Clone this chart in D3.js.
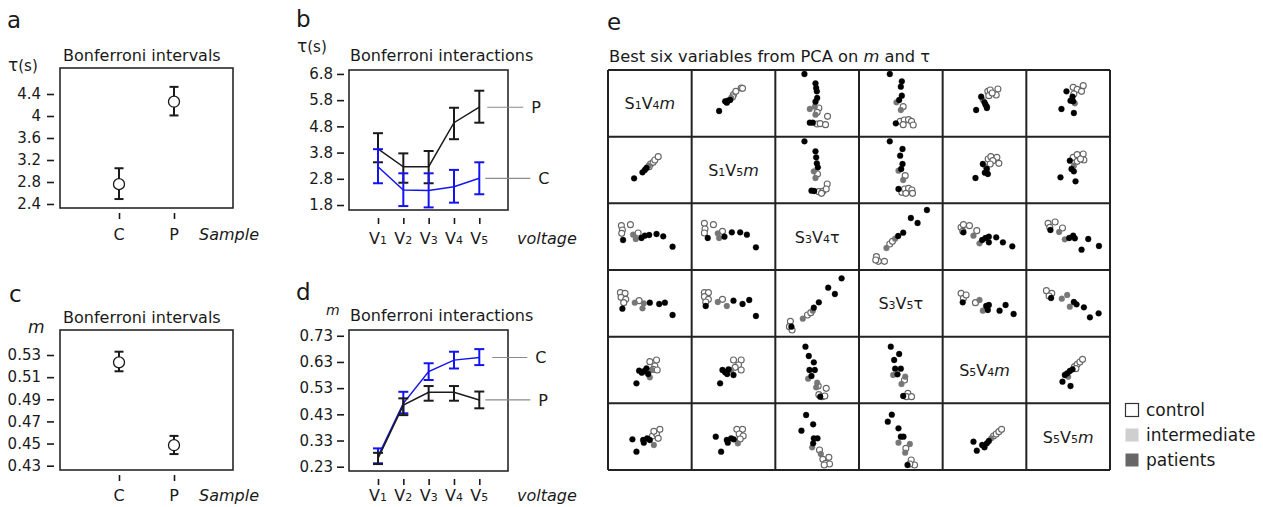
<!DOCTYPE html>
<html><head><meta charset="utf-8">
<script src="https://cdn.jsdelivr.net/npm/d3@7"></script>
<style>body{margin:0;background:#fff}svg{font-family:'DejaVu Sans',sans-serif}</style>
</head><body><svg id="c" width="1263" height="507"></svg>
<script>
// ---------- DATA ----------
const sampleCats = ["C","P"];
const tauMean = [2.76, 4.26], tauLo = [2.49, 4.01], tauHi = [3.05, 4.53];
const tauTicks = [2.4, 2.8, 3.2, 3.6, 4, 4.4];
const mMean = [0.5234, 0.4485], mLo = [0.5153, 0.4405], mHi = [0.5330, 0.4569];
const mTicks = [0.43, 0.45, 0.47, 0.49, 0.51, 0.53];

const voltages = ["1","2","3","4","5"];
const tauPMean = [3.94, 3.26, 3.26, 4.94, 5.53], tauPLo = [3.43, 2.65, 2.63, 4.31, 4.94], tauPHi = [4.54, 3.77, 3.86, 5.51, 6.16];
const tauCMean = [3.26, 2.37, 2.35, 2.50, 2.82], tauCLo = [2.63, 1.76, 1.71, 1.89, 2.21], tauCHi = [3.93, 3.01, 3.01, 3.14, 3.43];
const tauVTicks = [1.8, 2.8, 3.8, 4.8, 5.8, 6.8];
const mCMean = [0.270, 0.472, 0.593, 0.637, 0.647], mCLo = [0.243, 0.434, 0.561, 0.605, 0.618], mCHi = [0.300, 0.516, 0.625, 0.669, 0.679];
const mPMean = [0.262, 0.465, 0.514, 0.514, 0.485], mPLo = [0.240, 0.427, 0.482, 0.482, 0.453], mPHi = [0.283, 0.491, 0.538, 0.538, 0.517];
const mVTicks = [0.23, 0.33, 0.43, 0.53, 0.63, 0.73];

const varSensor = ["1","1","3","3","5","5"];
const varVolt = ["4","5","4","5","4","5"];
const varParam = ["m","m","τ","τ","m","m"];
const groups = ["c","i","p"];
const groupNames = ["control","intermediate","patients"];

// scatter cells: [score on column variable, score on row variable, group]
const pairRow0 = [null,
 [[32.8,38.5,"p"],[40,53,"p"],[43.2,54,"p"],[46,55,"p"],[42,51,"p"],[47.2,58,"i"],[50,63,"c"],[52.8,68,"c"],[59.2,73,"c"],[60.8,72.5,"c"],[48.8,59.5,"c"]],
 [[34.8,94,"p"],[48,80,"p"],[48.8,73,"p"],[49.6,68,"p"],[50,58,"p"],[48,52.5,"p"],[41.2,41.5,"i"],[47.2,45,"i"],[52,43,"c"],[50,36.5,"c"],[48,33,"i"],[62.4,30.5,"c"],[41.2,21,"p"],[44.8,21,"p"],[50,19,"c"],[53.6,19.5,"c"],[60,18,"c"]],
 [[36.8,94,"p"],[51.2,83,"p"],[50,75,"p"],[51.2,61.5,"p"],[48,55,"p"],[44.8,51.5,"i"],[52.8,45,"c"],[50,40,"i"],[44,20,"p"],[49.2,23,"c"],[54,25,"c"],[59.2,25.5,"c"],[62.8,23,"c"],[64.8,17.5,"c"],[52.8,18,"c"]],
 [[40,40,"p"],[46,60,"p"],[50,51.5,"p"],[52.8,45,"p"],[51.2,48,"p"],[48,55,"i"],[54,68,"c"],[56.8,70,"c"],[66,71.5,"c"],[64,62.5,"c"],[55.2,61.5,"c"],[59.2,65.5,"c"],[52.8,43,"p"]],
 [[42,41.5,"p"],[56.8,35.5,"p"],[48,68,"p"],[52.8,54,"p"],[56,53,"p"],[55.2,60,"p"],[58,50,"i"],[56,74,"c"],[60.8,71,"c"],[68,76.5,"c"],[66,68,"c"],[56.8,64,"c"]]];
const pairRow1 = [
 [[31.2,37.5,"p"],[41.2,46.5,"p"],[44,50,"p"],[46,53,"p"],[48.4,56.5,"i"],[50.8,59,"c"],[54,61.5,"c"],[56,65,"c"],[60,70,"c"],[49.2,55,"c"]],
 null,
 [[34.8,93,"p"],[48,78,"p"],[48.8,69,"p"],[49.6,60,"p"],[50.8,54,"p"],[46,48,"i"],[50.4,44,"c"],[48,38,"i"],[62,29,"c"],[43.2,19,"p"],[46.4,18.5,"p"],[52,17.5,"c"],[56.8,18,"c"],[60.8,21.5,"c"],[55.2,15,"c"]],
 [[36.8,93,"p"],[52,81.5,"p"],[49.2,71.5,"p"],[52,59,"p"],[50.4,51.5,"p"],[47.2,49,"i"],[55.2,41.5,"c"],[52.8,35,"i"],[47.2,21.5,"p"],[51.2,16.5,"c"],[54.4,21.5,"c"],[59.2,22.5,"c"],[63.2,20,"c"],[64,15,"c"],[56,15,"c"]],
 [[39.2,38,"p"],[48,59,"p"],[52.8,51.5,"p"],[54,44,"p"],[50.4,46,"p"],[51.2,55,"i"],[54.4,66.5,"c"],[57.6,70,"c"],[64.8,69,"c"],[67.2,60,"c"],[60,64,"c"],[56.8,59,"c"]],
 [[40.8,39,"p"],[58.8,33,"p"],[52,64,"p"],[54,51.5,"p"],[56.8,48,"p"],[56.8,56.5,"i"],[56,69,"c"],[60.8,73,"c"],[68,74,"c"],[68.8,65,"c"],[60.8,63,"c"],[64.8,66.5,"c"]]];
const pairRow2 = [
 [[16,66.5,"c"],[26.8,68,"c"],[17.2,60,"c"],[16.4,55,"c"],[18,45,"p"],[30,53,"i"],[36,55.5,"c"],[33.2,46.5,"i"],[40,48,"p"],[44,51.5,"p"],[49.2,52.5,"p"],[58,54,"p"],[66,50.5,"p"],[77.2,35,"p"]],
 [[15.2,70,"c"],[26,68,"c"],[16,61.5,"c"],[15.2,55.5,"c"],[19.2,48,"p"],[31.2,55,"i"],[36.8,58,"c"],[32.8,48,"i"],[39.2,50,"p"],[48,56.5,"p"],[58,56.5,"p"],[66,53,"p"],[76.8,34,"p"]],
 null,
 [[20.8,20,"c"],[23.2,13,"c"],[20,15,"c"],[30.4,13,"c"],[32.8,33,"i"],[36.8,39,"c"],[40,43,"c"],[43.2,47,"i"],[46.8,51,"p"],[52.8,56,"p"],[62,78,"p"],[70,70.5,"p"],[81.2,90,"p"]],
 [[22,64,"c"],[24,58,"c"],[32,66.5,"c"],[24.8,68,"c"],[24.8,56.5,"p"],[36.8,51.5,"i"],[40.8,59,"c"],[44,40,"i"],[47.2,45,"p"],[51.2,48,"p"],[55.2,50,"p"],[55.2,41.5,"p"],[64,49,"p"],[72,41.5,"p"],[83.2,35.5,"p"]],
 [[26,70,"c"],[34.4,72,"c"],[28,64,"c"],[28.8,60,"p"],[43.2,63,"c"],[39.2,57,"i"],[46,46,"i"],[51.2,48,"p"],[56,51.5,"p"],[58,47.5,"p"],[74,46.5,"p"],[66,30.5,"p"],[86.8,36,"p"]]];
const pairRow3 = [
 [[14.8,66,"c"],[20.4,65,"c"],[15.6,59,"c"],[21.2,56,"c"],[18.8,51,"c"],[17.2,42,"p"],[32,51,"i"],[37.2,54,"c"],[41.2,42.5,"i"],[42.8,50,"i"],[50,51,"p"],[61.2,49,"p"],[68,51,"p"],[77.2,32.5,"p"]],
 [[15.2,66,"c"],[20,66,"c"],[15.2,60,"c"],[20,56,"c"],[16.8,52,"c"],[16.8,46,"p"],[31.2,52,"i"],[36.8,56,"c"],[42,46,"i"],[50,54,"p"],[60.8,49,"p"],[68.8,55,"p"],[76.8,31,"p"]],
 [[18,23,"c"],[16.8,15,"c"],[20,10,"c"],[19.2,15,"p"],[32.8,27,"i"],[38.4,32.5,"c"],[42.4,36,"c"],[44.8,39,"i"],[46,43.5,"p"],[52,51.5,"p"],[63.2,73.5,"p"],[71.2,64,"p"],[79.2,87.5,"p"]],
 null,
 [[22,65,"c"],[24.8,57.5,"c"],[28,62.5,"c"],[24,51.5,"p"],[39.2,51,"c"],[44,55,"i"],[48,39,"i"],[52,46,"p"],[55.2,47.5,"p"],[54,40,"p"],[68,39,"p"],[75.2,47.5,"p"],[84.8,34,"p"]],
 [[24,69,"c"],[30.4,65,"c"],[27.2,61,"c"],[29.6,58,"p"],[42.4,57,"i"],[48.8,62.5,"i"],[52,45,"i"],[56.8,52,"p"],[60,48.5,"p"],[68.8,44,"p"],[76,29,"p"],[86.4,35,"p"]]];
const pairRow4 = [
 [[34,30,"p"],[37.2,49,"p"],[40.4,46,"p"],[43.6,48.5,"p"],[46,52.5,"p"],[48,44,"p"],[50,39,"i"],[52.4,50,"i"],[50,62.5,"c"],[58,65,"c"],[56,56,"c"],[54,51,"c"],[58.8,50,"c"]],
 [[34,30,"p"],[36.8,50,"p"],[40,46.5,"p"],[44,51,"p"],[42.4,44,"p"],[47.2,50,"i"],[50,42.5,"p"],[50,65,"c"],[59.2,65,"c"],[56,57.5,"c"],[52,54,"c"],[59.2,50,"c"]],
 [[36,85,"p"],[40,71,"p"],[46,61.5,"p"],[40.8,50,"p"],[47.2,50,"p"],[43.2,41,"p"],[39.2,37,"i"],[50,31,"i"],[51.2,26,"c"],[48.8,24,"i"],[60.8,22.5,"c"],[52,13,"c"],[56,10,"c"],[59.2,11,"c"],[53.6,10,"p"]],
 [[38,85,"p"],[48,74,"p"],[42,65,"p"],[43.2,52,"p"],[50,52,"p"],[46,43.5,"p"],[40.8,42.5,"i"],[55.2,40,"i"],[54.4,35,"c"],[50.8,29,"i"],[52.8,11,"p"],[58.4,15,"c"],[56.8,10,"c"],[62.8,10,"c"]],
 null,
 [[43.2,32.5,"p"],[52.8,26,"p"],[46,42.5,"p"],[48.8,45,"p"],[52,48.5,"p"],[55.2,51,"p"],[50,40,"i"],[57.6,55,"c"],[60.8,58.5,"c"],[64,62,"c"],[67.2,66,"c"],[59.2,52,"c"]]];
const pairRow5 = [
 [[29.2,46,"p"],[34,27.5,"p"],[42,45,"p"],[42.8,41,"p"],[46.8,47.5,"p"],[50,45,"p"],[54.8,37.5,"i"],[53.2,51,"c"],[58,54,"c"],[62,61,"c"],[54.8,58,"c"],[60,47.5,"c"]],
 [[28.8,50,"p"],[35.2,27.5,"p"],[42,45,"p"],[43.2,41,"p"],[47.2,47.5,"p"],[50.4,46,"p"],[55.2,40,"i"],[54,61,"c"],[60.8,61,"c"],[56.8,54,"c"],[61.6,51,"c"],[58,46.5,"c"]],
 [[36.8,82.5,"p"],[45.2,68.5,"p"],[31.2,59,"p"],[46,47.5,"p"],[50.4,47.5,"p"],[45.2,40,"p"],[44,34,"i"],[52.8,30,"c"],[54.4,24,"i"],[64,19,"c"],[56.8,16,"c"],[60,10,"c"],[64.8,9,"c"],[58.4,7.5,"c"]],
 [[39.2,83,"p"],[34.4,72.5,"p"],[47.2,62.5,"p"],[50,50,"p"],[53.2,50,"p"],[47.2,41,"i"],[60.8,39,"i"],[56,32.5,"c"],[55.2,26,"i"],[62.4,15,"c"],[66.4,7.5,"c"],[60.8,9,"c"],[58,7.5,"p"]],
 [[36.8,42.5,"p"],[40.8,29,"p"],[47.2,37.5,"p"],[50,34,"p"],[52.8,40,"p"],[55.2,43.5,"p"],[58,47.5,"i"],[60.8,51,"c"],[64,54,"c"],[67.2,57.5,"c"],[70.4,61,"c"]],
 null];
const pairRows = [pairRow0, pairRow1, pairRow2, pairRow3, pairRow4, pairRow5];

// ---------- DRAW ----------
const svg = d3.select("#c");
const INK = "#1a1a1a";
const BLUE = "#1414f0";

function txt(x, y, s, size, opt = {}) {
  const t = svg.append("text").attr("x", x).attr("y", y).attr("font-size", size).attr("fill", INK).text(s);
  if (opt.italic) t.attr("font-style", "italic");
  if (opt.anchor) t.attr("text-anchor", opt.anchor);
  return t;
}
function frame(l, t, r, b) {
  svg.append("rect").attr("x", l).attr("y", t).attr("width", r - l).attr("height", b - t)
    .attr("fill", "none").attr("stroke", INK).attr("stroke-width", 1.5);
}
function yAxis(y, ticks, xPos, pad) {
  const g = svg.append("g").attr("transform", `translate(${xPos},0)`)
    .call(d3.axisLeft(y).tickValues(ticks).tickSize(7).tickPadding(pad).tickFormat(d => String(d)));
  g.select(".domain").remove();
  g.selectAll("line").attr("stroke", INK).attr("stroke-width", 1.6);
  g.selectAll("text").attr("font-size", 15).attr("fill", INK).attr("font-family", "DejaVu Sans");
}
function xTicks(x, cats, yPos) {
  const g = svg.append("g").attr("transform", `translate(0,${yPos})`)
    .call(d3.axisBottom(x).tickValues(cats).tickSize(6).tickFormat(""));
  g.select(".domain").remove();
  g.selectAll("line").attr("stroke", INK).attr("stroke-width", 1.6);
}
function errBars(g, x, y, cats, mean, lo, hi, color, cap, sw) {
  cats.forEach((c, i) => {
    const cx = x(c);
    g.append("line").attr("x1", cx).attr("x2", cx).attr("y1", y(lo[i])).attr("y2", y(hi[i])).attr("stroke", color).attr("stroke-width", sw);
    [lo[i], hi[i]].forEach(v => g.append("line").attr("x1", cx - cap).attr("x2", cx + cap).attr("y1", y(v)).attr("y2", y(v)).attr("stroke", color).attr("stroke-width", sw));
  });
}

// Panels a and c
function intervalPanel(top, bottom, domain, ticks, mean, lo, hi, labelDy) {
  const y = d3.scaleLinear().domain(domain).range([bottom, top]);
  const x = d3.scalePoint().domain(sampleCats).range([119, 174]);
  frame(60, top, 233, bottom);
  yAxis(y, ticks, 54, 6);
  xTicks(x, sampleCats, bottom + 5);
  const g = svg.append("g");
  errBars(g, x, y, sampleCats, mean, lo, hi, INK, 4.5, 2);
  g.selectAll("circle.m").data(sampleCats).enter().append("circle")
    .attr("cx", d => x(d)).attr("cy", (d, i) => y(mean[i])).attr("r", 5.5)
    .attr("fill", "#fff").attr("stroke", INK).attr("stroke-width", 1.3);
  sampleCats.forEach(c => txt(x(c), bottom + labelDy, c, 16, {anchor: "middle"}));
  txt(199, bottom + labelDy, "Sample", 16, {italic: true});
  txt(63, top - 7, "Bonferroni intervals", 16);
}
intervalPanel(68, 208, [2.327, 4.873], tauTicks, tauMean, tauLo, tauHi, 32);
intervalPanel(330, 470, [0.4261, 0.5526], mTicks, mMean, mLo, mHi, 31);

// Panels b and d
function interactionPanel(top, bottom, domain, ticks, series, labelDy) {
  const y = d3.scaleLinear().domain(domain).range([bottom, top]);
  const x = d3.scalePoint().domain(voltages).range([378, 479.3]);
  frame(349, top, 508, bottom);
  yAxis(y, ticks, 344, 4);
  xTicks(x, voltages, bottom + 8);
  const line = d3.line().x((d, i) => x(voltages[i])).y(d => y(d));
  series.forEach(s => {
    const g = svg.append("g");
    errBars(g, x, y, voltages, s.mean, s.lo, s.hi, s.color, 5, 2);
    g.append("path").attr("d", line(s.mean)).attr("fill", "none").attr("stroke", s.color).attr("stroke-width", 1.5);
    const ly = y(s.mean[4]);
    svg.append("line").attr("x1", x("5") + s.l0).attr("x2", x("5") + s.l1).attr("y1", ly).attr("y2", ly)
      .attr("stroke", "#8a8a8a").attr("stroke-width", 1.2);
    txt(x("5") + s.l1 + 8, ly + 6, s.name, 16);
  });
  voltages.forEach(v => {
    const t = txt(x(v), bottom + labelDy, "V", 16, {anchor: "middle"});
    t.append("tspan").attr("font-size", 11).text(v);
  });
  txt(517, bottom + labelDy, "voltage", 16, {italic: true});
  txt(350, top - 9, "Bonferroni interactions", 16);
}
interactionPanel(70, 210, [1.61, 6.95], tauVTicks, [
  {name: "P", mean: tauPMean, lo: tauPLo, hi: tauPHi, color: INK, l0: 8, l1: 44},
  {name: "C", mean: tauCMean, lo: tauCLo, hi: tauCHi, color: BLUE, l0: 6, l1: 51}], 34);
interactionPanel(330, 471, [0.2136, 0.752], mVTicks, [
  {name: "C", mean: mCMean, lo: mCLo, hi: mCHi, color: BLUE, l0: 13, l1: 48},
  {name: "P", mean: mPMean, lo: mPLo, hi: mPHi, color: INK, l0: 6, l1: 51}], 30);

// axis labels
function tauLabel(x, y) {
  const t = txt(x, y, "τ", 17);
  t.append("tspan").attr("font-size", 15).text("(s)");
}
tauLabel(8, 71);
tauLabel(297, 52);
txt(28, 333, "m", 17, {italic: true});
txt(326, 315, "m", 14, {italic: true});

// panel letters
[["a", 7, 28], ["b", 296, 27], ["c", 9, 302], ["d", 296, 300], ["e", 607, 30]].forEach(p => txt(p[1], p[2], p[0], 23));

// Panel e: scatter matrix
const vars = d3.range(6);
const gx = d3.scaleBand().domain(vars).range([608, 1110]);
const gy = d3.scaleBand().domain(vars).range([70, 470]);
const te = txt(609, 62, "Best six variables from PCA on ", 16.3);
te.append("tspan").attr("font-style", "italic").text("m");
te.append("tspan").text(" and τ");

const styleFill = {c: "#fff", i: "#777", p: "#000"};
const styleStroke = {c: "#666", i: "#777", p: "#000"};
const sm = svg.append("g");
pairRows.forEach((row, ri) => {
  row.forEach((cell, ci) => {
    const x0 = gx(ci), y0 = gy(ri);
    if (!cell) {
      const t = sm.append("text").attr("x", x0 + gx.bandwidth() / 2).attr("y", y0 + gy.bandwidth() / 2 + 6)
        .attr("text-anchor", "middle").attr("font-size", 16).attr("fill", INK).text("S");
      t.append("tspan").attr("font-size", 11).text(varSensor[ri]);
      t.append("tspan").text("V");
      t.append("tspan").attr("font-size", 11).text(varVolt[ri]);
      const p = t.append("tspan").text(varParam[ri]);
      if (varParam[ri] === "m") p.attr("font-style", "italic");
      return;
    }
    const sx = d3.scaleLinear().domain([0, 100]).range([x0, x0 + gx.bandwidth()]);
    const sy = d3.scaleLinear().domain([0, 100]).range([y0 + gy.bandwidth(), y0]);
    const pts = groups.flatMap(g => cell.filter(d => d[2] === g));
    sm.selectAll(null).data(pts).enter().append("circle")
      .attr("cx", d => sx(d[0])).attr("cy", d => sy(d[1]))
      .attr("r", d => d[2] === "c" ? 3 : 2.9)
      .attr("fill", d => styleFill[d[2]]).attr("stroke", d => styleStroke[d[2]])
      .attr("stroke-width", d => d[2] === "c" ? 1.1 : 0.4);
  });
});
// grid
vars.concat([6]).forEach(i => {
  const xv = i < 6 ? gx(i) : 1110, yv = i < 6 ? gy(i) : 470;
  svg.append("line").attr("x1", xv).attr("x2", xv).attr("y1", 70).attr("y2", 470).attr("stroke", "#222").attr("stroke-width", 2);
  svg.append("line").attr("x1", 608).attr("x2", 1110).attr("y1", yv).attr("y2", yv).attr("stroke", "#222").attr("stroke-width", 2);
});

// legend
const legFill = ["#fff", "#cfcfcf", "#666"];
groupNames.forEach((n, i) => {
  svg.append("rect").attr("x", 1125.5).attr("y", 403.5 + i * 25).attr("width", 13).attr("height", 13)
    .attr("fill", legFill[i]).attr("stroke", i === 0 ? "#333" : "none").attr("stroke-width", 1.2);
  txt(1146, 416 + i * 25, n, 17);
});
</script></body></html>
